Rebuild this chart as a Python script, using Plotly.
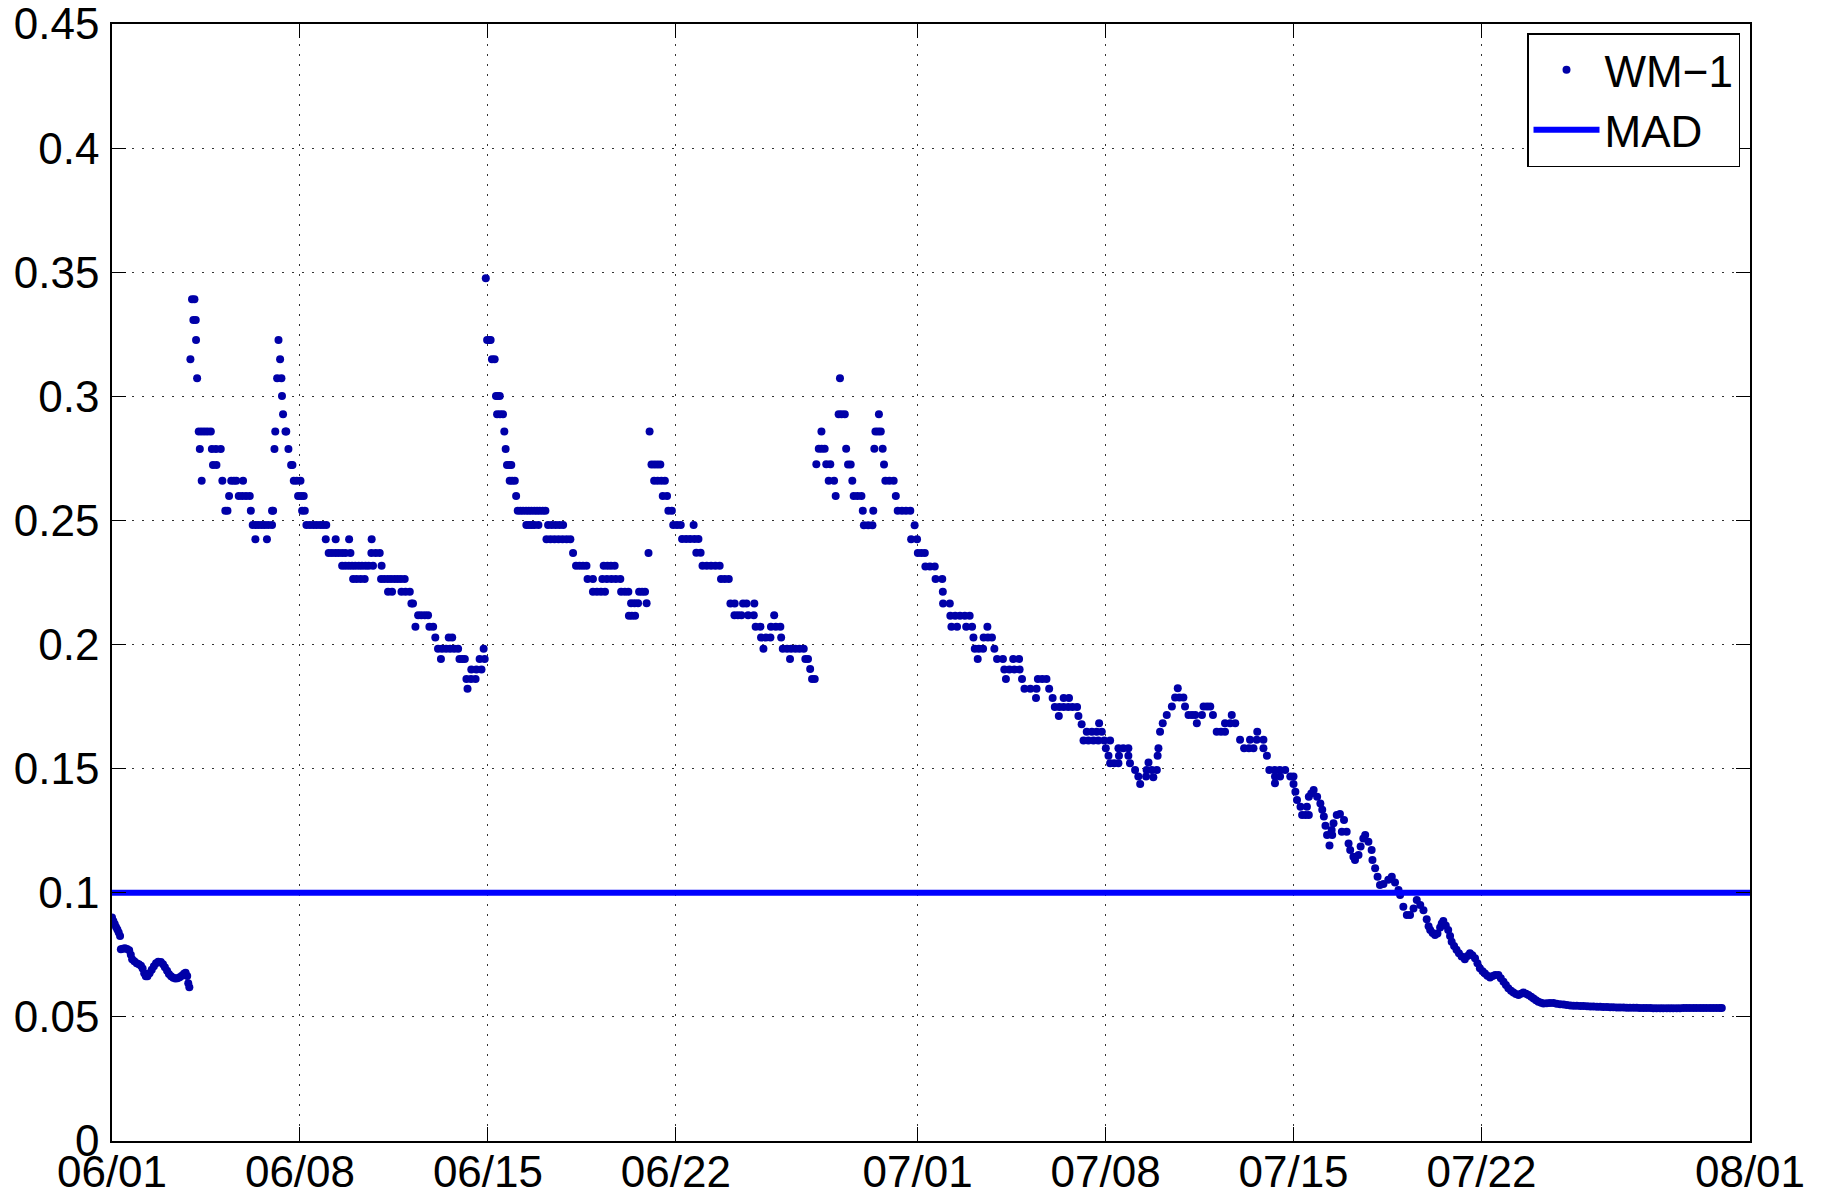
import pandas as pd
import plotly.graph_objects as go

# Time origin: day offsets below are counted from midnight, 1 June
START = pd.Timestamp("2014-06-01")

# WM-1 readings as (day offset, value), one list per recording stretch
SEG_A = [
    (0.00, 0.0900), (0.05, 0.0886), (0.10, 0.0874), (0.15, 0.0862), (0.20, 0.0852),
    (0.25, 0.0840), (0.30, 0.0826), (0.33, 0.0772), (0.40, 0.0775), (0.48, 0.0777),
    (0.56, 0.0774), (0.64, 0.0768), (0.70, 0.0750), (0.75, 0.0732), (0.83, 0.0724),
    (0.92, 0.0716), (1.00, 0.0712), (1.08, 0.0706), (1.14, 0.0695), (1.20, 0.0676),
    (1.26, 0.0664), (1.32, 0.0664), (1.40, 0.0676), (1.48, 0.0690), (1.56, 0.0704),
    (1.64, 0.0716), (1.72, 0.0722), (1.82, 0.0721), (1.90, 0.0712), (1.97, 0.0700),
    (2.05, 0.0686), (2.12, 0.0673), (2.20, 0.0664), (2.28, 0.0658), (2.36, 0.0655),
    (2.44, 0.0656), (2.52, 0.0660), (2.60, 0.0666), (2.68, 0.0674), (2.74, 0.0678),
    (2.80, 0.0665), (2.84, 0.0636), (2.88, 0.0619),
]

SEG_B = [
    (2.92, 0.3149), (2.98, 0.3391), (3.03, 0.3308), (3.07, 0.3391), (3.12, 0.3308),
    (3.13, 0.3227), (3.17, 0.3073), (3.23, 0.2858), (3.27, 0.2788), (3.34, 0.2858),
    (3.34, 0.2660), (3.45, 0.2858), (3.56, 0.2858), (3.68, 0.2858), (3.72, 0.2788),
    (3.76, 0.2723), (3.87, 0.2788), (3.89, 0.2723), (4.05, 0.2788), (4.11, 0.2660),
    (4.22, 0.2539), (4.30, 0.2539), (4.36, 0.2598), (4.44, 0.2660), (4.54, 0.2660),
    (4.63, 0.2660), (4.72, 0.2598), (4.85, 0.2598), (4.88, 0.2660), (4.99, 0.2598),
    (5.13, 0.2598), (5.17, 0.2539), (5.24, 0.2482), (5.34, 0.2424), (5.35, 0.2482),
    (5.46, 0.2482), (5.58, 0.2482), (5.69, 0.2482), (5.77, 0.2424), (5.82, 0.2482),
    (5.96, 0.2482), (5.96, 0.2539), (6.00, 0.2539), (6.05, 0.2788), (6.08, 0.2858),
    (6.15, 0.3073), (6.20, 0.3227), (6.26, 0.3149), (6.31, 0.3073), (6.33, 0.3001),
    (6.37, 0.2928), (6.46, 0.2858), (6.49, 0.2858), (6.57, 0.2788), (6.67, 0.2723),
    (6.72, 0.2723), (6.77, 0.2660), (6.88, 0.2660), (6.93, 0.2598), (7.02, 0.2660),
    (7.04, 0.2598), (7.08, 0.2539), (7.14, 0.2598), (7.18, 0.2539), (7.24, 0.2482),
    (7.37, 0.2482), (7.50, 0.2482), (7.62, 0.2482), (7.75, 0.2482), (7.86, 0.2482),
    (7.96, 0.2424), (7.98, 0.2482), (8.07, 0.2369), (8.19, 0.2369), (8.32, 0.2369),
    (8.33, 0.2424), (8.44, 0.2369), (8.57, 0.2369), (8.57, 0.2317), (8.69, 0.2369),
    (8.69, 0.2317), (8.82, 0.2317), (8.83, 0.2424), (8.88, 0.2369), (8.94, 0.2317),
    (8.98, 0.2264), (9.06, 0.2317), (9.11, 0.2264), (9.19, 0.2317), (9.26, 0.2264),
    (9.31, 0.2317), (9.41, 0.2264), (9.44, 0.2317), (9.56, 0.2317), (9.66, 0.2369),
    (9.67, 0.2424), (9.72, 0.2317), (9.82, 0.2369), (9.97, 0.2369), (10.02, 0.2264),
    (10.04, 0.2317), (10.14, 0.2264), (10.27, 0.2264), (10.28, 0.2213), (10.39, 0.2264),
    (10.43, 0.2213), (10.52, 0.2264), (10.64, 0.2264), (10.76, 0.2264), (10.78, 0.2213),
    (10.90, 0.2264), (10.93, 0.2213), (11.09, 0.2213), (11.15, 0.2165), (11.21, 0.2165),
    (11.30, 0.2072), (11.40, 0.2118), (11.52, 0.2118), (11.65, 0.2118), (11.77, 0.2118),
    (11.82, 0.2072), (11.96, 0.2072), (12.04, 0.2028), (12.14, 0.1983), (12.25, 0.1942),
    (12.29, 0.1983), (12.44, 0.1983), (12.54, 0.2028), (12.59, 0.1983), (12.67, 0.2028),
    (12.74, 0.1983), (12.89, 0.1983), (12.94, 0.1942), (13.04, 0.1942), (13.14, 0.1942),
    (13.20, 0.1861), (13.24, 0.1822), (13.37, 0.1861), (13.38, 0.1900), (13.54, 0.1861),
    (13.57, 0.1900), (13.69, 0.1942), (13.76, 0.1900), (13.84, 0.1983), (13.88, 0.1942),
]

SEG_C = [
    (13.92, 0.3476), (13.97, 0.3227), (14.05, 0.3227), (14.10, 0.3227), (14.15, 0.3149),
    (14.25, 0.3149), (14.30, 0.3001), (14.34, 0.2928), (14.37, 0.3001), (14.44, 0.3001),
    (14.45, 0.2928), (14.56, 0.2928), (14.61, 0.2858), (14.66, 0.2788), (14.71, 0.2723),
    (14.80, 0.2723), (14.81, 0.2660), (14.87, 0.2723), (14.90, 0.2660), (15.00, 0.2660),
    (15.05, 0.2598), (15.11, 0.2539), (15.21, 0.2539), (15.31, 0.2539), (15.42, 0.2539),
    (15.43, 0.2482), (15.52, 0.2539), (15.53, 0.2482), (15.62, 0.2539), (15.63, 0.2482),
    (15.73, 0.2539), (15.73, 0.2482), (15.83, 0.2539), (15.88, 0.2482), (15.93, 0.2539),
    (16.04, 0.2539), (16.14, 0.2539), (16.18, 0.2424), (16.24, 0.2482), (16.33, 0.2424),
    (16.38, 0.2482), (16.48, 0.2424), (16.52, 0.2482), (16.63, 0.2424), (16.66, 0.2482),
    (16.78, 0.2424), (16.80, 0.2482), (16.93, 0.2424), (17.07, 0.2424), (17.17, 0.2369),
    (17.28, 0.2317), (17.41, 0.2317), (17.54, 0.2317), (17.67, 0.2317), (17.71, 0.2264),
    (17.91, 0.2264), (17.91, 0.2213), (18.06, 0.2213), (18.21, 0.2213), (18.26, 0.2264),
    (18.31, 0.2317), (18.36, 0.2213), (18.43, 0.2264), (18.45, 0.2317), (18.58, 0.2317),
    (18.60, 0.2264), (18.72, 0.2317), (18.76, 0.2264), (18.93, 0.2264), (18.96, 0.2213),
    (19.10, 0.2213), (19.23, 0.2213), (19.25, 0.2116), (19.33, 0.2166), (19.36, 0.2116),
    (19.46, 0.2166), (19.48, 0.2116), (19.59, 0.2166), (19.63, 0.2213), (19.74, 0.2213),
    (19.85, 0.2213), (19.91, 0.2166),
]

SEG_D = [
    (19.98, 0.2369), (20.02, 0.2858), (20.09, 0.2725), (20.19, 0.2660), (20.20, 0.2725),
    (20.31, 0.2725), (20.32, 0.2660), (20.42, 0.2725), (20.46, 0.2660), (20.51, 0.2598),
    (20.59, 0.2660), (20.67, 0.2598), (20.72, 0.2539), (20.85, 0.2539), (20.90, 0.2482),
    (21.04, 0.2482), (21.18, 0.2482), (21.23, 0.2425), (21.38, 0.2425), (21.53, 0.2425),
    (21.66, 0.2482), (21.69, 0.2425), (21.76, 0.2370), (21.84, 0.2425), (21.92, 0.2370),
    (21.99, 0.2317), (22.15, 0.2317), (22.31, 0.2317), (22.47, 0.2317), (22.63, 0.2317),
    (22.68, 0.2264), (22.82, 0.2264), (22.97, 0.2264), (23.03, 0.2165), (23.18, 0.2118),
    (23.19, 0.2165), (23.31, 0.2118), (23.44, 0.2118), (23.50, 0.2165), (23.63, 0.2165),
    (23.69, 0.2118), (23.90, 0.2118), (23.92, 0.2165), (23.97, 0.2072), (24.15, 0.2072),
    (24.17, 0.2028), (24.26, 0.1983), (24.35, 0.2028), (24.52, 0.2028), (24.54, 0.2072),
    (24.66, 0.2118), (24.72, 0.2072), (24.89, 0.2072), (24.92, 0.2028), (24.98, 0.1983),
    (25.14, 0.1983), (25.25, 0.1942), (25.29, 0.1983), (25.45, 0.1983), (25.60, 0.1983),
    (25.76, 0.1983), (25.82, 0.1942), (25.92, 0.1942), (26.00, 0.1902), (26.07, 0.1861),
    (26.17, 0.1861),
]

SEG_E = [
    (26.23, 0.2726), (26.32, 0.2789), (26.42, 0.2858), (26.43, 0.2789), (26.54, 0.2789),
    (26.60, 0.2726), (26.69, 0.2660), (26.75, 0.2726), (26.89, 0.2660), (26.95, 0.2598),
    (27.06, 0.2928), (27.11, 0.3073), (27.17, 0.2928), (27.29, 0.2928), (27.34, 0.2789),
    (27.41, 0.2725), (27.51, 0.2725), (27.57, 0.2660), (27.62, 0.2598), (27.76, 0.2598),
    (27.91, 0.2598), (27.96, 0.2539), (28.00, 0.2481), (28.16, 0.2481), (28.32, 0.2481),
    (28.35, 0.2539), (28.39, 0.2789), (28.43, 0.2858), (28.53, 0.2858), (28.56, 0.2928),
    (28.63, 0.2858), (28.70, 0.2789), (28.75, 0.2725), (28.80, 0.2660), (28.95, 0.2660),
    (29.11, 0.2660), (29.19, 0.2598), (29.26, 0.2539), (29.42, 0.2539), (29.57, 0.2539),
    (29.73, 0.2539), (29.76, 0.2424), (29.89, 0.2481), (29.98, 0.2424), (30.01, 0.2369),
    (30.14, 0.2369), (30.27, 0.2369), (30.29, 0.2314), (30.46, 0.2314), (30.64, 0.2314),
    (30.67, 0.2264), (30.92, 0.2264), (30.94, 0.2213), (30.95, 0.2165), (31.20, 0.2165),
    (31.22, 0.2116), (31.26, 0.2072), (31.40, 0.2116), (31.47, 0.2072), (31.58, 0.2116),
    (31.76, 0.2116), (31.81, 0.2072), (31.94, 0.2116), (32.03, 0.2072), (32.08, 0.2028),
    (32.13, 0.1983), (32.24, 0.1942), (32.28, 0.1983), (32.44, 0.1983), (32.46, 0.2028),
    (32.60, 0.2072), (32.62, 0.2028), (32.77, 0.2028), (32.86, 0.1983), (32.96, 0.1942),
    (33.18, 0.1942), (33.23, 0.1900), (33.29, 0.1861), (33.42, 0.1900), (33.56, 0.1942),
    (33.61, 0.1900), (33.78, 0.1942), (33.80, 0.1900), (33.89, 0.1861), (33.98, 0.1822),
    (34.20, 0.1822), (34.41, 0.1785), (34.43, 0.1822), (34.48, 0.1861), (34.64, 0.1861),
    (34.80, 0.1861), (34.90, 0.1822), (35.03, 0.1785), (35.11, 0.1748), (35.26, 0.1712),
    (35.28, 0.1748), (35.44, 0.1748), (35.44, 0.1785), (35.61, 0.1748), (35.64, 0.1785),
    (35.77, 0.1748), (35.94, 0.1748), (35.99, 0.1712), (36.11, 0.1679), (36.18, 0.1613),
    (36.30, 0.1649), (36.36, 0.1613), (36.49, 0.1649), (36.55, 0.1613), (36.67, 0.1649),
    (36.73, 0.1613), (36.76, 0.1683), (36.86, 0.1649), (36.95, 0.1613), (37.01, 0.1582),
    (37.11, 0.1552), (37.17, 0.1613), (37.17, 0.1522), (37.32, 0.1522), (37.48, 0.1522),
    (37.48, 0.1582), (37.50, 0.1552), (37.66, 0.1582), (37.85, 0.1582), (37.85, 0.1552),
    (37.91, 0.1522), (38.10, 0.1495), (38.22, 0.1468), (38.29, 0.1438), (38.51, 0.1468),
    (38.53, 0.1495), (38.60, 0.1525), (38.72, 0.1495), (38.78, 0.1465), (38.91, 0.1495),
    (38.94, 0.1552), (38.97, 0.1582), (39.03, 0.1649), (39.13, 0.1683), (39.28, 0.1716),
    (39.47, 0.1750), (39.59, 0.1787), (39.69, 0.1824), (39.75, 0.1787), (39.90, 0.1787),
    (39.96, 0.1750), (40.09, 0.1716), (40.22, 0.1716), (40.34, 0.1716), (40.40, 0.1683),
    (40.59, 0.1716), (40.65, 0.1750), (40.78, 0.1750), (40.90, 0.1750), (41.00, 0.1716),
    (41.14, 0.1649), (41.30, 0.1649), (41.45, 0.1649), (41.45, 0.1683), (41.64, 0.1683),
    (41.70, 0.1716), (41.83, 0.1683), (42.01, 0.1616), (42.16, 0.1582), (42.34, 0.1582),
    (42.38, 0.1616), (42.51, 0.1582), (42.63, 0.1616), (42.65, 0.1649), (42.88, 0.1616),
    (42.88, 0.1582), (43.01, 0.1552), (43.10, 0.1495), (43.30, 0.1495), (43.31, 0.1441),
    (43.31, 0.1468), (43.49, 0.1495), (43.50, 0.1468), (43.69, 0.1495), (43.88, 0.1468),
    (44.00, 0.1468), (44.00, 0.1438), (44.07, 0.1407), (44.13, 0.1374), (44.26, 0.1347),
    (44.32, 0.1313), (44.45, 0.1313), (44.50, 0.1347), (44.57, 0.1313), (44.57, 0.1387),
    (44.66, 0.1400), (44.75, 0.1414), (44.88, 0.1387), (45.00, 0.1360), (45.07, 0.1334),
    (45.13, 0.1307), (45.19, 0.1270), (45.25, 0.1233), (45.34, 0.1190), (45.42, 0.1253),
    (45.44, 0.1233), (45.49, 0.1280), (45.61, 0.1313), (45.73, 0.1317), (45.80, 0.1246),
    (45.88, 0.1293), (45.98, 0.1246), (46.05, 0.1199), (46.11, 0.1172), (46.23, 0.1145),
    (46.29, 0.1132), (46.42, 0.1152), (46.50, 0.1186), (46.60, 0.1219), (46.67, 0.1233),
    (46.79, 0.1206), (46.91, 0.1172), (46.94, 0.1132), (47.04, 0.1099), (47.13, 0.1065),
    (47.22, 0.1031), (47.35, 0.1035), (47.53, 0.1052), (47.66, 0.1065), (47.78, 0.1041),
    (47.91, 0.1011), (47.97, 0.0991), (48.09, 0.0944), (48.22, 0.0910), (48.34, 0.0910),
    (48.47, 0.0937), (48.59, 0.0971), (48.72, 0.0951), (48.84, 0.0930), (48.96, 0.0893),
    (49.03, 0.0865), (49.09, 0.0850), (49.18, 0.0838), (49.27, 0.0830), (49.36, 0.0836),
    (49.46, 0.0860), (49.52, 0.0876), (49.58, 0.0886), (49.67, 0.0868), (49.76, 0.0850),
    (49.83, 0.0826), (49.89, 0.0803), (49.98, 0.0786), (50.07, 0.0770), (50.16, 0.0756),
    (50.26, 0.0743), (50.38, 0.0732), (50.48, 0.0745), (50.57, 0.0756), (50.66, 0.0748),
    (50.76, 0.0736), (50.85, 0.0716), (50.94, 0.0696), (51.04, 0.0684), (51.13, 0.0675),
    (51.22, 0.0666), (51.32, 0.0659), (51.42, 0.0665), (51.51, 0.0669), (51.63, 0.0669),
    (51.72, 0.0656), (51.82, 0.0642), (51.91, 0.0628), (52.00, 0.0615), (52.10, 0.0605),
    (52.19, 0.0598), (52.28, 0.0592), (52.38, 0.0588), (52.47, 0.0593), (52.56, 0.0598),
    (52.66, 0.0593), (52.75, 0.0588), (52.85, 0.0581), (52.94, 0.0574), (53.03, 0.0567),
    (53.12, 0.0561), (53.22, 0.0557), (53.31, 0.0554), (53.43, 0.0555), (53.55, 0.0556),
    (53.68, 0.0556), (53.80, 0.0553), (53.93, 0.0551), (54.06, 0.0550), (54.18, 0.0548),
    (54.31, 0.0546), (54.43, 0.0545), (54.55, 0.0545), (54.68, 0.0544), (54.80, 0.0544),
    (54.93, 0.0543), (55.05, 0.0542), (55.17, 0.0542), (55.30, 0.0541), (55.42, 0.0541),
    (55.54, 0.0540), (55.67, 0.0540), (55.79, 0.0539), (55.91, 0.0539), (56.04, 0.0538),
    (56.16, 0.0538), (56.29, 0.0538), (56.41, 0.0537), (56.53, 0.0537), (56.66, 0.0537),
    (56.78, 0.0537), (56.90, 0.0536), (57.03, 0.0536), (57.15, 0.0536), (57.28, 0.0536),
    (57.40, 0.0535), (57.52, 0.0535), (57.65, 0.0535), (57.77, 0.0535), (57.90, 0.0535),
    (58.02, 0.0535), (58.14, 0.0535), (58.27, 0.0535), (58.39, 0.0535), (58.52, 0.0536),
    (58.64, 0.0536), (58.76, 0.0536), (58.89, 0.0536), (59.01, 0.0536), (59.14, 0.0536),
    (59.26, 0.0536), (59.38, 0.0536), (59.51, 0.0536), (59.63, 0.0536), (59.75, 0.0536),
    (59.87, 0.0536), (59.95, 0.0536),
]

# Threshold drawn as a horizontal reference line
MAD_LEVEL = 0.1

X_TICK_DATES = ["2014-06-01", "2014-06-08", "2014-06-15", "2014-06-22", "2014-07-01",
                "2014-07-08", "2014-07-15", "2014-07-22", "2014-08-01"]
X_TICK_TEXT = ["06/01", "06/08", "06/15", "06/22", "07/01", "07/08", "07/15", "07/22", "08/01"]
Y_TICKS = [0, 0.05, 0.1, 0.15, 0.2, 0.25, 0.3, 0.35, 0.4, 0.45]
Y_TICK_TEXT = ["0", "0.05", "0.1", "0.15", "0.2", "0.25", "0.3", "0.35", "0.4", "0.45"]

points = SEG_A + SEG_B + SEG_C + SEG_D + SEG_E
days = [p[0] for p in points]
vals = [p[1] for p in points]
times = START + pd.to_timedelta(days, unit="D")

FONT = "Liberation Sans, Arial, Helvetica, sans-serif"

fig = go.Figure()
fig.add_trace(go.Scatter(
    x=times, y=vals, mode="markers", name="WM\u22121",
    marker=dict(size=8, color="#0000A8", line=dict(width=0)),
))
fig.add_trace(go.Scatter(
    x=[X_TICK_DATES[0], X_TICK_DATES[-1]], y=[MAD_LEVEL, MAD_LEVEL],
    mode="lines", name="MAD", line=dict(color="#0000FF", width=6),
))

axis_common = dict(
    showline=True, linecolor="black", linewidth=1.5, mirror="ticks",
    ticks="inside", ticklen=14, tickwidth=1, tickcolor="black",
    showgrid=True, gridcolor="#333333", gridwidth=1, griddash="2px,8px",
    zeroline=False, automargin=False, ticklabeloverflow="allow",
    tickfont=dict(family=FONT, size=44, color="black"),
)

fig.update_xaxes(
    type="date", range=[X_TICK_DATES[0], X_TICK_DATES[-1]],
    tickmode="array", tickvals=X_TICK_DATES, ticktext=X_TICK_TEXT,
    ticklabelstandoff=-9, **axis_common,
)
fig.update_yaxes(
    range=[0, 0.4500001], tickmode="array", tickvals=Y_TICKS, ticktext=Y_TICK_TEXT,
    ticklabelstandoff=2, **axis_common,
)

fig.update_layout(
    width=1823, height=1196,
    margin=dict(l=112, r=73, t=24, b=55, pad=0),
    paper_bgcolor="white", plot_bgcolor="white",
    font=dict(family=FONT, size=44, color="black"),
    showlegend=True,
    legend=dict(
        x=0.9939, y=0.9919, xanchor="right", yanchor="top",
        bgcolor="white", bordercolor="black", borderwidth=1.5,
        font=dict(family=FONT, size=44, color="black"),
        itemwidth=66, tracegroupgap=0,
    ),
)

fig.write_html("out.html")
